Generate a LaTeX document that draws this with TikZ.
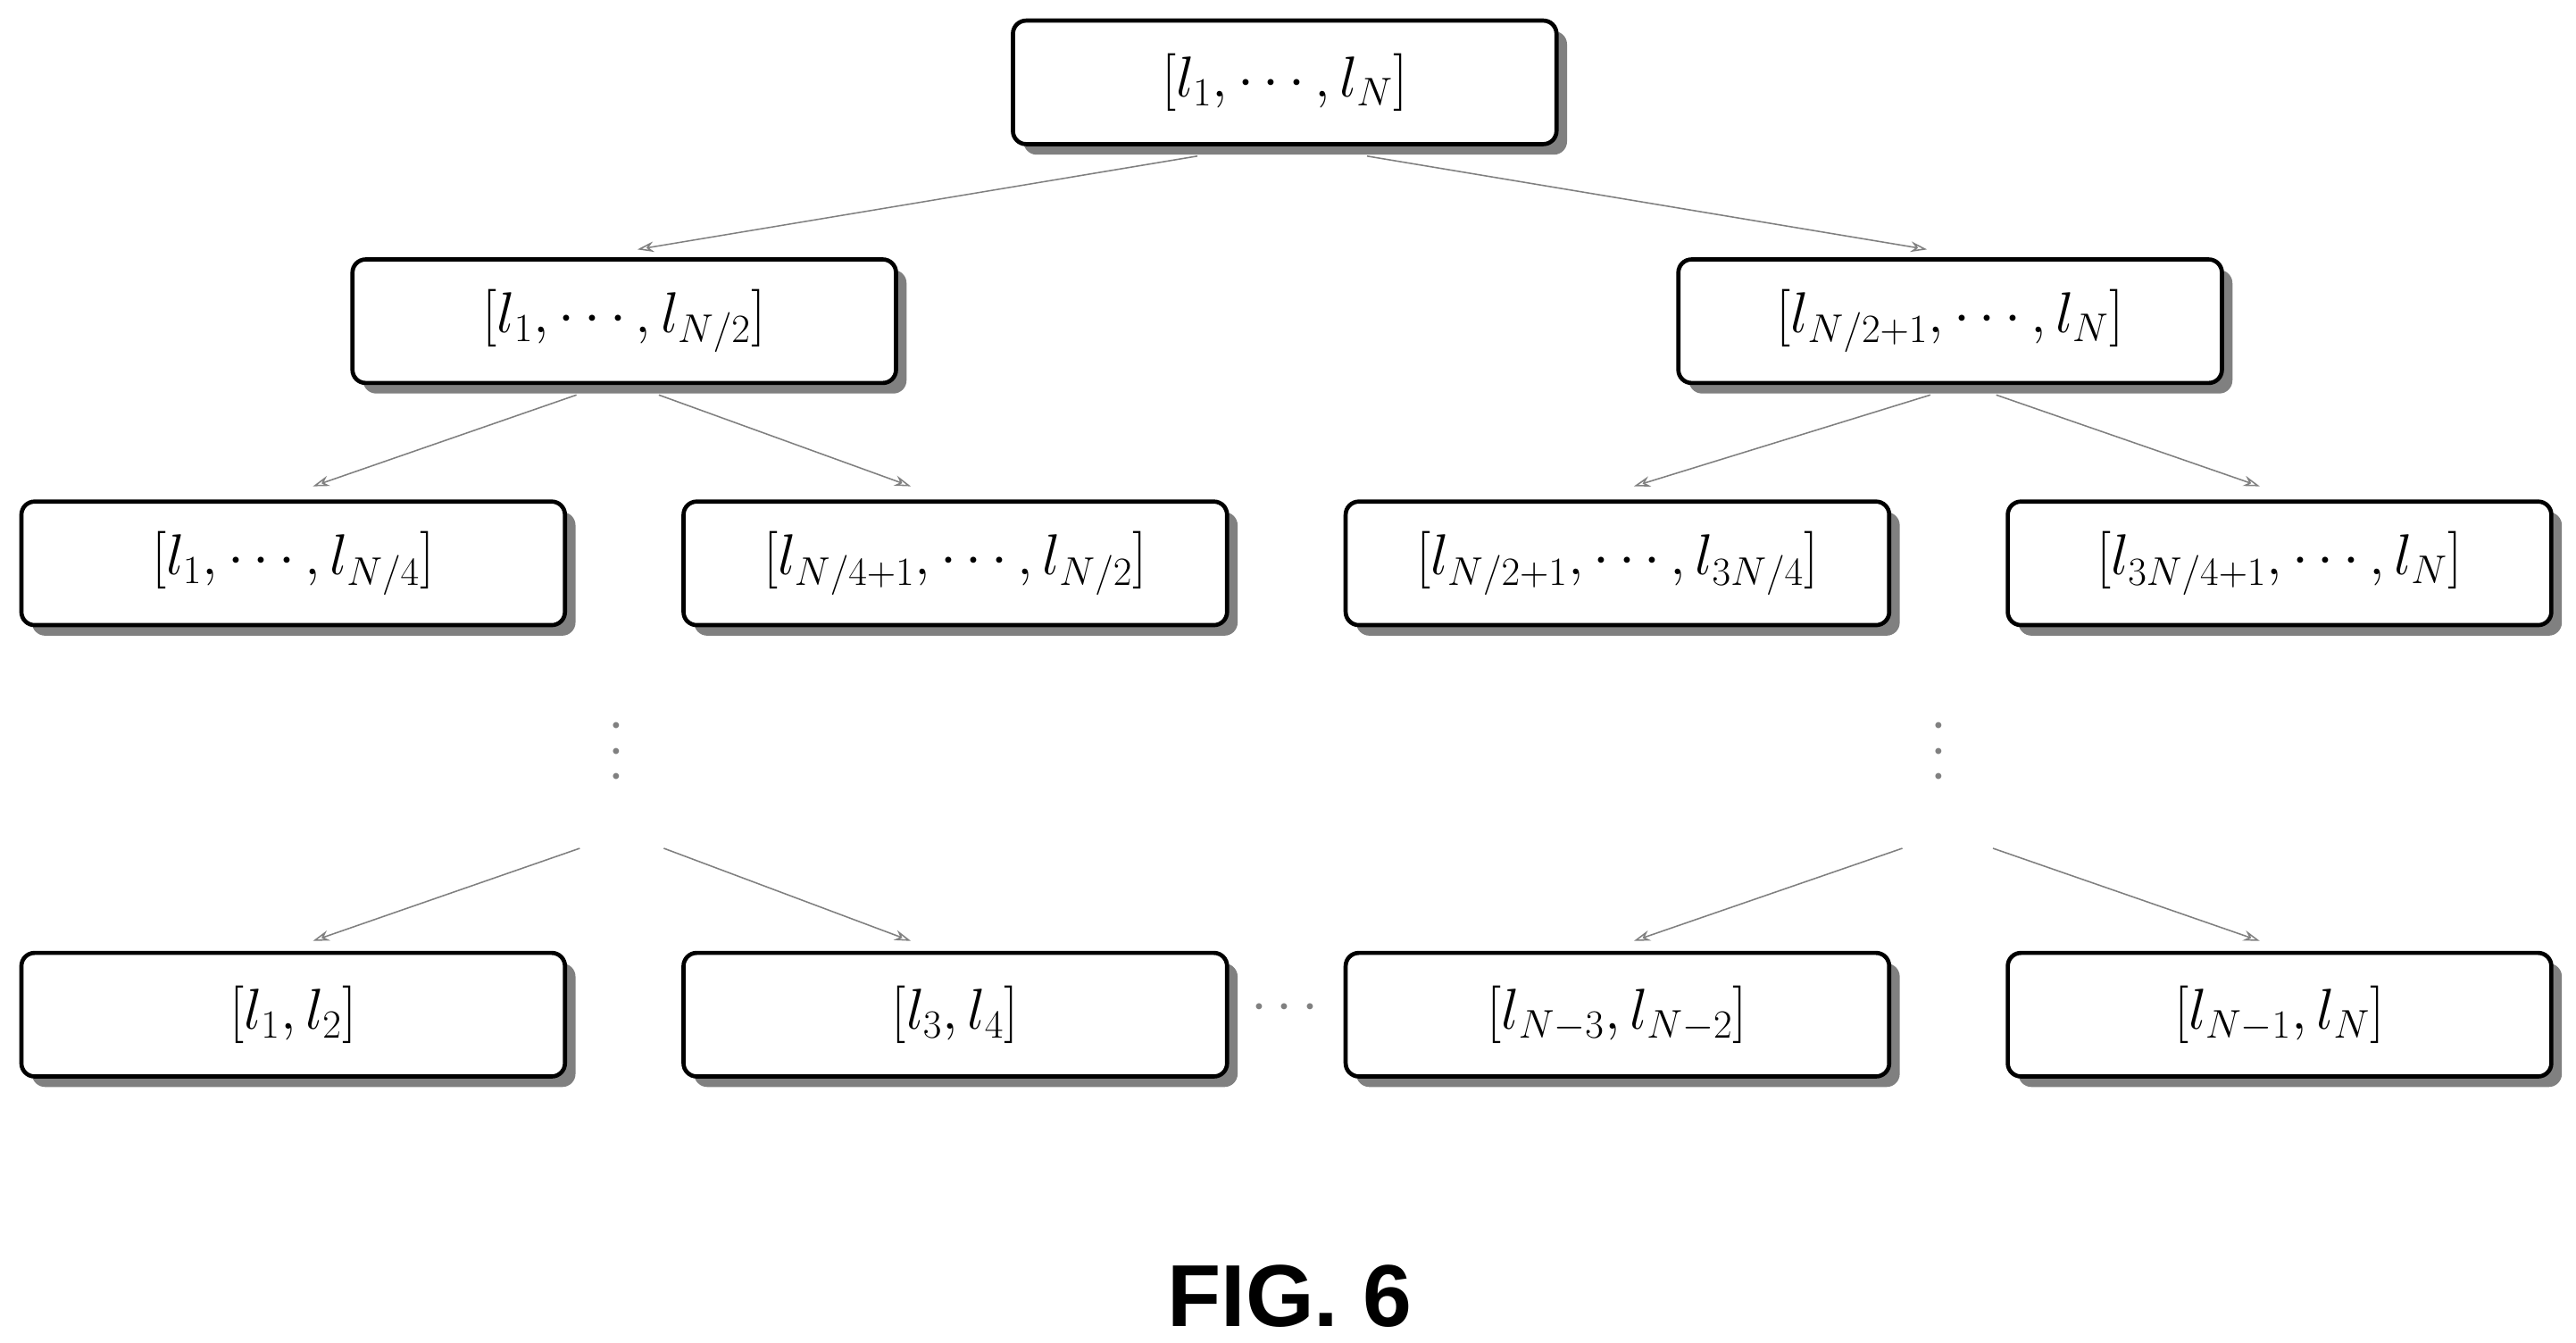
\documentclass[tikz,border=0pt]{standalone}
\usepackage{fontspec}
\newfontfamily\figfont{Liberation Sans}
\usetikzlibrary{shadows,arrows.meta,positioning}
\tikzset{
  blk/.style={draw, line width=1.8pt, rounded corners=2mm, fill=white,
    minimum width=82.5mm, minimum height=18.75mm, font=\fontsize{26}{30}\selectfont,
    drop shadow={shadow xshift=1.6mm, shadow yshift=-1.6mm, fill=black!50, opacity=1}},
  lnk/.style={draw=black!50, line width=0.6pt, -{Stealth[length=2.5mm,width=1.6mm,open]}},
  gdots/.style={text=black!50, font=\fontsize{26}{30}\selectfont}
}
\begin{document}
\begin{tikzpicture}[x=0.25mm, y=-0.25mm]
  \useasboundingbox (0,0) rectangle (1564,815);
  % levels
  \node[blk] (root) at (780,50) {$[l_1,\cdots,l_N]$};
  \node[blk] (l) at (379,195) {$\Bigl[l_1,\cdots,l_{N/2}\Bigr]$};
  \node[blk] (r) at (1184,195) {$\Bigl[l_{N/2+1},\cdots,l_N\Bigr]$};
  \node[blk] (ll) at (178,342) {$\Bigl[l_1,\cdots,l_{N/4}\Bigr]$};
  \node[blk] (lr) at (580,342) {$\Bigl[l_{N/4+1},\cdots,l_{N/2}\Bigr]$};
  \node[blk] (rl) at (982,342) {$\Bigl[l_{N/2+1},\cdots,l_{3N/4}\Bigr]$};
  \node[blk] (rr) at (1384,342) {$\Bigl[l_{3N/4+1},\cdots,l_N\Bigr]$};
  \node[blk] (b1) at (178,616) {$[l_1,l_2]$};
  \node[blk] (b2) at (580,616) {$[l_3,l_4]$};
  \node[blk] (b3) at (982,616) {$[l_{N-3},l_{N-2}]$};
  \node[blk] (b4) at (1384,616) {$[l_{N-1},l_N]$};
  % dots
  \node[gdots, rotate=90] (vl) at (375,456) {$\cdots$};
  \node[gdots, rotate=90] (vr) at (1178,456) {$\cdots$};
  \node[gdots] (hd) at (780,612) {$\cdots$};
  \coordinate (sl1) at (352,515);
  \coordinate (sl2) at (403,515);
  \coordinate (sr1) at (1155,515);
  \coordinate (sr2) at (1210,515);
  % arrows
  \draw[lnk] ([xshift=-53*0.25mm,yshift=-1.5mm]root.south) -- ([xshift=8*0.25mm,yshift=1.2mm]l.north);
  \draw[lnk] ([xshift=50*0.25mm,yshift=-1.5mm]root.south) -- ([xshift=-14*0.25mm,yshift=1.2mm]r.north);
  \draw[lnk] ([xshift=-29*0.25mm,yshift=-1.5mm]l.south) -- ([xshift=12*0.25mm,yshift=2mm]ll.north);
  \draw[lnk] ([xshift=21*0.25mm,yshift=-1.5mm]l.south) -- ([xshift=-27*0.25mm,yshift=2mm]lr.north);
  \draw[lnk] ([xshift=-12*0.25mm,yshift=-1.5mm]r.south) -- ([xshift=10*0.25mm,yshift=2mm]rl.north);
  \draw[lnk] ([xshift=28*0.25mm,yshift=-1.5mm]r.south) -- ([xshift=-12*0.25mm,yshift=2mm]rr.north);
  \draw[lnk] (sl1) -- ([xshift=12*0.25mm,yshift=1.5mm]b1.north);
  \draw[lnk] (sl2) -- ([xshift=-27*0.25mm,yshift=1.5mm]b2.north);
  \draw[lnk] (sr1) -- ([xshift=10*0.25mm,yshift=1.5mm]b3.north);
  \draw[lnk] (sr2) -- ([xshift=-12*0.25mm,yshift=1.5mm]b4.north);
  % caption
  \node[font=\figfont\bfseries\fontsize{38}{44}\selectfont] (fig) at (783,787) {FIG. 6};
\end{tikzpicture}
\end{document}
